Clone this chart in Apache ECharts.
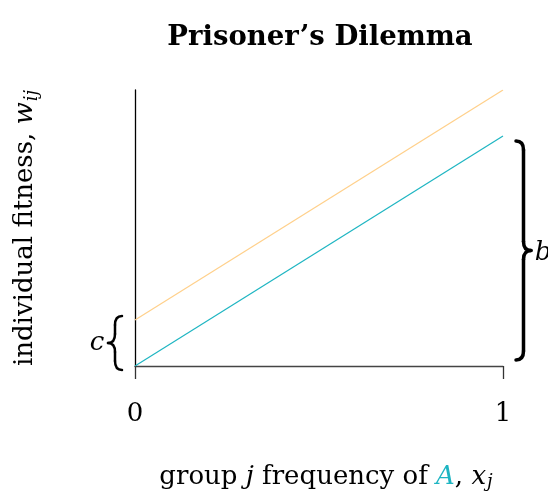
<!DOCTYPE html>
<html>
<head>
<meta charset="utf-8">
<script src="https://cdn.jsdelivr.net/npm/echarts@6/dist/echarts.min.js"></script>
<style>
  html, body { margin: 0; padding: 0; background: #fff; }
  #chart { width: 548px; height: 495px; }
</style>
</head>
<body>
<div id="chart"></div>
<script>
// Group frequency of A (x_j) and the fitness of each type along it
const frequency = [0, 1];
const fitnessA = [0, 1];        // cooperators: b * x_j
const fitnessB = [0.2, 1.2];    // defectors: b * x_j + c
const benefitB = 1;             // b
const costC = 0.2;              // c
const xTickLabels = ['0', '1'];

const SERIF = '"DejaVu Serif", serif';
const TEAL = '#1db5c2';
const ORANGE = '#ffd08a';

const chart = echarts.init(document.getElementById('chart'), null, { renderer: 'canvas' });

const pairs = (ys) => frequency.map((x, i) => [x, ys[i]]);

chart.setOption({
  animation: false,
  backgroundColor: '#fff',
  title: {
    text: 'Prisoner’s Dilemma',
    left: 315,
    top: 19,
    textAlign: 'center',
    textStyle: { fontFamily: SERIF, fontWeight: 'bold', fontSize: 27.5, color: '#000' }
  },
  grid: { left: 135, right: 45, top: 90, bottom: 129, outerBoundsMode: 'none' },
  xAxis: {
    type: 'value',
    min: 0, max: 1, interval: 1,
    axisLine: { lineStyle: { color: '#444', width: 1.3 } },
    axisTick: { show: true, length: 13, lineStyle: { color: '#333', width: 1.3 } },
    axisLabel: {
      margin: 35,
      fontFamily: SERIF, fontSize: 26, color: '#000',
      formatter: (v) => xTickLabels[frequency.indexOf(v)]
    },
    splitLine: { show: false },
    name: '{t|group }{i|j}{t| frequency of }{a|A}{t|, }{i|x}{s|j}',
    nameLocation: 'middle',
    nameGap: 97,
    nameTextStyle: {
      padding: [0, 0, 0, 14],
      rich: {
        t: { fontFamily: SERIF, fontSize: 26, color: '#000' },
        i: { fontFamily: SERIF, fontSize: 26, fontStyle: 'italic', color: '#000' },
        a: { fontFamily: SERIF, fontSize: 26, fontStyle: 'italic', color: TEAL },
        s: { fontFamily: SERIF, fontSize: 18, fontStyle: 'italic', color: '#000', padding: [10, 0, 0, 1] }
      }
    }
  },
  yAxis: {
    type: 'value',
    min: 0, max: 1.2,
    axisLine: { show: true, lineStyle: { color: '#000', width: 1.3 } },
    axisTick: { show: false },
    axisLabel: { show: false },
    splitLine: { show: false },
    name: '{t|individual fitness, }{i|w}{s|ij}',
    nameLocation: 'middle',
    nameRotate: 90,
    nameGap: 94,
    nameTextStyle: {
      rich: {
        t: { fontFamily: SERIF, fontSize: 26, color: '#000' },
        i: { fontFamily: SERIF, fontSize: 26, fontStyle: 'italic', color: '#000' },
        s: { fontFamily: SERIF, fontSize: 18, fontStyle: 'italic', color: '#000', padding: [14, 0, 0, 1] }
      }
    }
  },
  series: [
    {
      type: 'line', data: pairs(fitnessB), symbol: 'none',
      lineStyle: { color: ORANGE, width: 1.2 }, z: 3
    },
    {
      type: 'line', data: pairs(fitnessA), symbol: 'none',
      lineStyle: { color: TEAL, width: 1.2 }, z: 4
    }
  ]
});

// Curly brace built from quadratic curves and straight strokes, spanning y0..y1 at base x,
// pointing in direction dir (+1 right, -1 left)
function braceParts(x, y0, y1, w, dir, lineWidth) {
  const ym = (y0 + y1) / 2;
  const r = Math.min(9, (y1 - y0) / 4);
  const xm = x + dir * w / 2;
  const xt = x + dir * w;
  const style = { fill: null, stroke: '#000', lineWidth: lineWidth, lineCap: 'round' };
  const curve = (x1, y1_, cx, cy, x2, y2) => ({
    type: 'bezierCurve', shape: { x1: x1, y1: y1_, cpx1: cx, cpy1: cy, x2: x2, y2: y2 }, style: style
  });
  const line = (x1, y1_, x2, y2) => ({
    type: 'line', shape: { x1: x1, y1: y1_, x2: x2, y2: y2 }, style: style
  });
  return [
    curve(x, y0, xm, y0, xm, y0 + r),
    line(xm, y0 + r, xm, ym - r),
    curve(xm, ym - r, xm, ym, xt, ym),
    curve(xt, ym, xm, ym, xm, ym + r),
    line(xm, ym + r, xm, y1 - r),
    curve(xm, y1 - r, xm, y1, x, y1)
  ];
}

function drawBraces() {
  const p0 = chart.convertToPixel({ gridIndex: 0 }, [0, 0]);
  const pc = chart.convertToPixel({ gridIndex: 0 }, [0, costC]);
  const p1 = chart.convertToPixel({ gridIndex: 0 }, [1, 0]);
  const pb = chart.convertToPixel({ gridIndex: 0 }, [1, benefitB]);

  const leftX = p0[0] - 13;
  const rightX = p1[0] + 13;

  chart.setOption({
    graphic: [].concat(
      braceParts(leftX, pc[1] - 4, p0[1] + 4, 14, -1, 2.5),
      braceParts(rightX, pb[1] + 5, p0[1] - 6, 15, 1, 3.5),
      [
        {
          type: 'text', x: leftX - 25, y: (pc[1] + p0[1]) / 2,
          style: { text: 'c', font: `italic 26px ${SERIF}`, fill: '#000', align: 'center', verticalAlign: 'middle' }
        },
        {
          type: 'text', x: rightX + 27, y: (pb[1] + p0[1]) / 2 + 2,
          style: { text: 'b', font: `italic 26px ${SERIF}`, fill: '#000', align: 'center', verticalAlign: 'middle' }
        }
      ]
    )
  });
}
drawBraces();
</script>
</body>
</html>
